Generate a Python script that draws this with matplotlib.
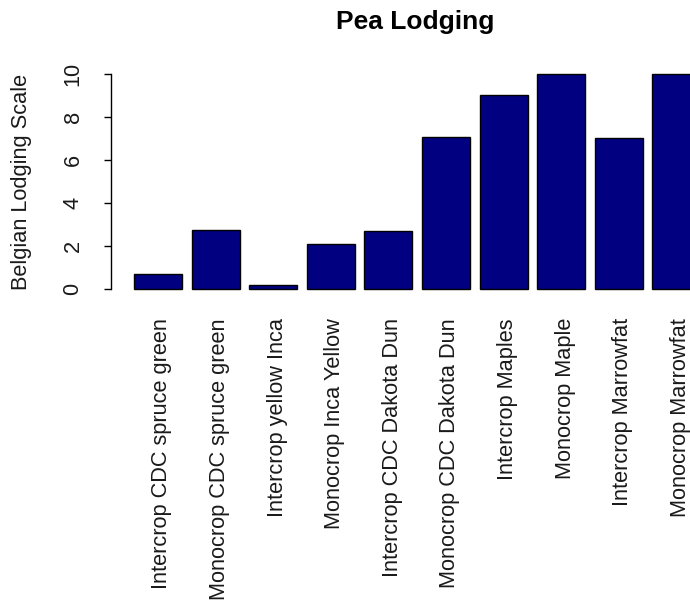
import matplotlib
matplotlib.use("Agg")
import matplotlib.pyplot as plt
import matplotlib.transforms as mtransforms
import numpy as np

plt.rcParams["font.family"] = ["Liberation Sans", "DejaVu Sans"]

CATEGORIES = [
    "Intercrop CDC spruce green",
    "Monocrop CDC spruce green",
    "Intercrop yellow Inca",
    "Monocrop Inca Yellow",
    "Intercrop CDC Dakota Dun",
    "Monocrop CDC Dakota Dun",
    "Intercrop Maples",
    "Monocrop Maple",
    "Intercrop Marrowfat",
    "Monocrop Marrowfat",
]
LODGING = [0.7, 2.75, 0.2, 2.1, 2.7, 7.05, 9.0, 10.0, 7.0, 10.0]
Y_TICKS = [0, 2, 4, 6, 8, 10]

W, H = 690, 601
fig = plt.figure(figsize=(W / 100, H / 100), dpi=100)
# R-style plot region; the right edge runs past the figure like the original
left, right, top, bottom = 111.3, 723.0, 65.4, 297.6
ax = fig.add_axes([left / W, 1 - bottom / H, (right - left) / W, (bottom - top) / H])

centers = 0.7 + 1.2 * np.arange(len(CATEGORIES))
ax.bar(centers, LODGING, width=1.0, color="#000080", edgecolor="black", linewidth=1.0)

ax.set_xlim(-0.272, 12.472)
ax.set_ylim(-0.4, 10.4)
for side in ["top", "right", "bottom"]:
    ax.spines[side].set_visible(False)
ax.spines["left"].set_bounds(0, 10)
ax.spines["left"].set_position(("data", -0.272))
ax.spines["left"].set_linewidth(1.0)

ax.set_yticks(Y_TICKS)
ax.set_yticklabels([str(t) for t in Y_TICKS], rotation=90, va="center", fontsize=15.7, color="#1a1a1a")
ax.tick_params(axis="y", length=5, width=1.0, pad=15)

ax.set_xticks(centers)
ax.set_xticklabels(CATEGORIES, rotation=90, fontsize=15.7, color="#1a1a1a")
ax.tick_params(axis="x", length=0, pad=14.7)
# nudge the rotated labels right a little, as R places them
shift = mtransforms.ScaledTranslation(4 / 100, 0, fig.dpi_scale_trans)
for label in ax.get_xticklabels():
    label.set_transform(label.get_transform() + shift)

fig.text(22 / W, 1 - 181.5 / H, "Belgian Lodging Scale", rotation=90,
         ha="center", va="center", fontsize=15.7, color="#1a1a1a")
fig.text(415 / W, 1 - 22 / H, "Pea Lodging", ha="center", va="center",
         fontsize=19, fontweight="bold")

fig.savefig("out.png", dpi=100)
